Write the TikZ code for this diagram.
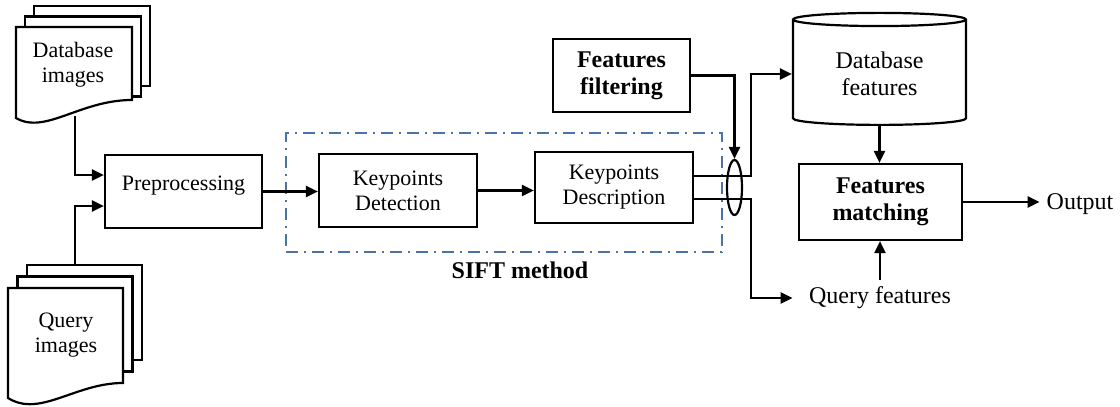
\documentclass[tikz,border=0pt]{standalone}
\usepackage{fontspec}
\setmainfont{Liberation Serif}
\usetikzlibrary{arrows.meta,shapes.geometric}
\definecolor{siftblue}{RGB}{74,116,168}
\tikzset{
    lbl/.style={align=center, font=\fontsize{11}{12.5}\selectfont},
    lblbig/.style={align=center, font=\fontsize{12}{13.5}\selectfont},
    bold/.style={align=center, font=\fontsize{12}{13.5}\selectfont\bfseries},
    box/.style={draw, line width=1.1pt, inner sep=2pt},
    page/.style={draw, line width=1.1pt, fill=white},
    dbase/.style={draw, cylinder, shape border rotate=90, aspect=0.13, line width=1.1pt,
        minimum width=86.5pt, minimum height=56pt, lblbig},
    sift/.style={draw=siftblue, line width=0.9pt, dash pattern=on 6pt off 3pt on 1pt off 3pt},
    arr/.style={line width=1.1pt, -{Triangle[length=6pt,width=5.5pt]}},
}
\begin{document}
\begin{tikzpicture}[x=0.5pt, y=-0.5pt]
        \useasboundingbox (0,0) rectangle (1120,407);

        % Database images
        \foreach \d in {2,1} {
            \draw[page] (16+9*\d, 27-10.5*\d) rectangle ++(116, 80);
        }
        \draw[page] (16,27) -- (132,27) -- (132,100) .. controls (80,100) and (45,135) .. (16,118) -- cycle;
        \node[lbl] (dbimg) at (73,65) {Database\\images};
        \coordinate (dbimg-b) at (75,116);

        % Query images
        \foreach \d in {2,1} {
            \draw[page] (8+9.5*\d, 288-11.5*\d) rectangle ++(115, 95);
        }
        \draw[page] (8,288) -- (123,288) -- (123,383) .. controls (75,383) and (40,418) .. (8,398) -- cycle;
        \node[lbl] (qimg) at (66,335) {Query\\images};
        \coordinate (qimg-t) at (75,265);

        % SIFT
        \node[sift, minimum width=218pt, minimum height=59.5pt] (siftbox) at (504,192.5) {};
        \node[bold] (siftlbl) at (520,270) {SIFT method};
        \node[box, lbl, text depth=8pt, minimum width=78.5pt, minimum height=36.5pt] (pre) at (183.5,191.5) {Preprocessing};
        \node[box, lbl, minimum width=79pt, minimum height=36.5pt] (det) at (398,190.5) {Keypoints\\Detection};
        \node[box, lbl, minimum width=79pt, minimum height=35.5pt] (desc) at (614,187.5) {Keypoints\\Description};

        % Features
        \node[box, bold, minimum width=68.5pt, minimum height=36.5pt] (filt) at (621.5,75.5) {Features\\filtering};
        \node[dbase] (dbf) at (879.5,74) {Database\\features};
        \node[box, bold, minimum width=81.5pt, minimum height=38pt] (match) at (880.5,202) {Features\\matching};
        \node[lblbig, inner xsep=8pt] (qf) at (880,298) {Query features};
        \node[lblbig] (out) at (1080,204) {Output};
        \node[draw, ellipse, line width=1.1pt, inner sep=0pt, minimum width=7.5pt, minimum height=27.5pt] (ell) at (734.5,187.5) {};

        % Arrows
        \draw[arr] (dbimg-b) |- ([yshift=8.25pt]pre.west);
        \draw[arr] (qimg-t) |- ([yshift=-7.25pt]pre.west);
        \draw[arr] (pre.east) -- (pre.east -| det.west);
        \draw[arr] (det.east) -- (det.east -| desc.west);
        \draw[arr] ([yshift=5.75pt]desc.east) -- ++(57,0) |- (dbf.west);
        \draw[arr] ([yshift=-5.75pt]desc.east) -- ++(57,0) |- (qf.west);
        \draw[arr] (filt.east) -| (ell.north);
        \draw[arr] (dbf.south) -- (dbf.south |- match.north);
        \draw[arr] (qf.north) -- (qf.north |- match.south);
        \draw[arr] (match.east) -- (match.east -| out.west);
    \end{tikzpicture}
\end{document}
